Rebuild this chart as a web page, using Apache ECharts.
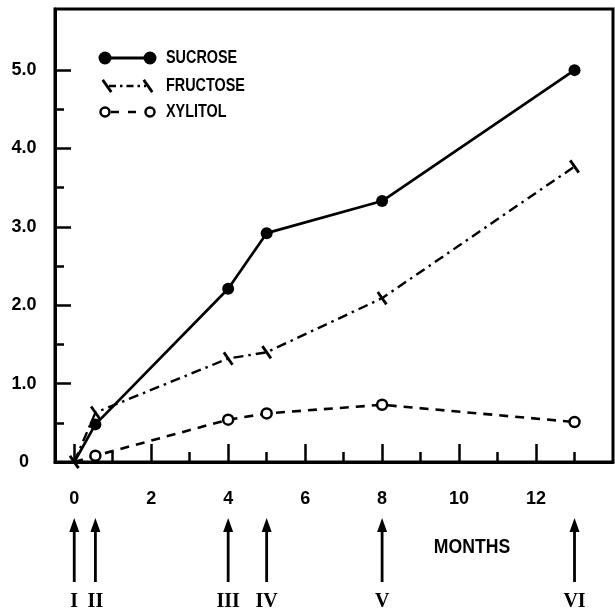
<!DOCTYPE html>
<html><head><meta charset="utf-8">
<script src="https://cdn.jsdelivr.net/npm/echarts@6/dist/echarts.min.js"></script>
<style>html,body{margin:0;padding:0;background:#fff}#c{width:615px;height:613px}</style>
</head><body><div id="c"></div>
<script>
// ---- data ----
const sucroseMonths = [0, 0.55, 4, 5, 8, 13];
const sucroseValues = [0, 0.48, 2.21, 2.92, 3.33, 5.0];
const fructoseMonths = [0, 0.55, 4, 5, 8, 13];
const fructoseValues = [0, 0.63, 1.32, 1.40, 2.09, 3.77];
const xylitolMonths = [0, 0.55, 4, 5, 8, 13];
const xylitolValues = [0, 0.08, 0.54, 0.62, 0.73, 0.51];
const xMajorTicks = [0, 2, 4, 6, 8, 10, 12];
const xMinorTicks = [1, 3, 5, 7, 9, 11, 13];
const yMajorTicks = [0, 1, 2, 3, 4, 5];
const yMinorTicks = [0.5, 1.5, 2.5, 3.5, 4.5];
const yTickLabels = ['0', '1.0', '2.0', '3.0', '4.0', '5.0'];
const samplingMonths = [0, 0.55, 4, 5, 8, 13];
const samplingLabels = ['I', 'II', 'III', 'IV', 'V', 'VI'];
const legendNames = ['SUCROSE', 'FRUCTOSE', 'XYLITOL'];
const xAxisTitle = 'MONTHS';

// ---- chart ----
const BLACK = '#000';
const NUM_FONT = "'Liberation Sans', Arial, sans-serif";
const NARROW_FONT = "'Liberation Sans Narrow', 'Liberation Sans', sans-serif";
const SERIF_FONT = "'Liberation Serif', 'DejaVu Serif', serif";

function pts(xs, ys, hideFirst) {
  return xs.map((x, i) => (hideFirst && i === 0) ? { value: [x, ys[i]], symbol: 'none' } : [x, ys[i]]);
}

const chart = echarts.init(document.getElementById('c'), null, { renderer: 'canvas' });

const baseX = { type: 'value', min: -0.5, max: 14, position: 'bottom', splitLine: { show: false } };
const baseY = { type: 'value', min: 0, max: 5.78, position: 'left', splitLine: { show: false } };

chart.setOption({
  animation: false,
  backgroundColor: '#fff',
  grid: { left: 55, right: 2, top: 9, bottom: 151, show: true, borderColor: BLACK, borderWidth: 3 },
  xAxis: [
    Object.assign({}, baseX, {
      axisLine: { show: true, onZero: false, lineStyle: { color: BLACK, width: 3 } },
      axisTick: { show: true, inside: true, length: 18, customValues: xMajorTicks, lineStyle: { color: BLACK, width: 2.5 } },
      axisLabel: { show: true, customValues: xMajorTicks, margin: 28, color: BLACK, fontFamily: NUM_FONT, fontWeight: 'bold', fontSize: 18 }
    }),
    Object.assign({}, baseX, {
      axisLine: { show: false, onZero: false },
      axisTick: { show: true, inside: true, length: 10, customValues: xMinorTicks, lineStyle: { color: BLACK, width: 2.5 } },
      axisLabel: { show: false }
    })
  ],
  yAxis: [
    Object.assign({}, baseY, {
      axisLine: { show: true, onZero: false, lineStyle: { color: BLACK, width: 3 } },
      axisTick: { show: true, inside: true, length: 16, customValues: yMajorTicks, lineStyle: { color: BLACK, width: 2.5 } },
      axisLabel: { show: true, customValues: yMajorTicks, margin: 31, align: 'center', color: BLACK, fontFamily: NUM_FONT, fontWeight: 'bold', fontSize: 18,
        formatter: v => { const i = yMajorTicks.indexOf(Math.round(v * 10) / 10); return i >= 0 ? yTickLabels[i] : ''; } }
    }),
    Object.assign({}, baseY, {
      axisLine: { show: false, onZero: false },
      axisTick: { show: true, inside: true, length: 9, customValues: yMinorTicks, lineStyle: { color: BLACK, width: 2.5 } },
      axisLabel: { show: false }
    })
  ],
  series: [
    {
      name: legendNames[0], type: 'line', xAxisIndex: 0, yAxisIndex: 0, z: 5,
      data: pts(sucroseMonths, sucroseValues, true),
      symbol: 'circle', symbolSize: 12,
      itemStyle: { color: BLACK },
      lineStyle: { color: BLACK, width: 2.7 }
    },
    {
      name: legendNames[1], type: 'line', xAxisIndex: 0, yAxisIndex: 0, z: 4,
      data: pts(fructoseMonths, fructoseValues, false),
      symbol: 'rect', symbolSize: [2.8, 15], symbolRotate: 35,
      itemStyle: { color: BLACK },
      lineStyle: { color: BLACK, width: 2.4, type: [10, 5, 2.5, 5] }
    },
    {
      name: legendNames[2], type: 'line', xAxisIndex: 0, yAxisIndex: 0, z: 4,
      data: pts(xylitolMonths, xylitolValues, true),
      symbol: 'circle', symbolSize: 10,
      itemStyle: { color: '#fff', borderColor: BLACK, borderWidth: 2.5 },
      lineStyle: { color: BLACK, width: 2.6, type: [9, 7] }
    }
  ]
});

// ---- annotations (legend samples, sampling arrows, axis title) ----
const g = [];
const lx1 = 105, lx2 = 150, ltx = 166, rows = [58, 86, 112];
// sucrose sample
g.push({ type: 'line', shape: { x1: lx1, y1: rows[0], x2: lx2, y2: rows[0] }, style: { stroke: BLACK, lineWidth: 3 } });
g.push({ type: 'circle', shape: { cx: lx1, cy: rows[0], r: 6.5 }, style: { fill: BLACK } });
g.push({ type: 'circle', shape: { cx: lx2, cy: rows[0], r: 6.5 }, style: { fill: BLACK } });
// fructose sample
g.push({ type: 'line', shape: { x1: lx1 + 4, y1: rows[1], x2: lx2 - 4, y2: rows[1] }, style: { stroke: BLACK, lineWidth: 2.4, lineDash: [7, 4, 2.5, 4] } });
[lx1 + 2, lx2 - 2].forEach(x => g.push({ type: 'rect', x: x, y: rows[1], rotation: 35 * Math.PI / 180, shape: { x: -1.4, y: -7.5, width: 2.8, height: 15 }, style: { fill: BLACK } }));
// xylitol sample
g.push({ type: 'line', shape: { x1: lx1 + 6, y1: rows[2], x2: lx2 - 6, y2: rows[2] }, style: { stroke: BLACK, lineWidth: 2.6, lineDash: [8, 9] } });
[lx1, lx2].forEach(x => g.push({ type: 'circle', shape: { cx: x, cy: rows[2], r: 4.5 }, style: { fill: '#fff', stroke: BLACK, lineWidth: 2.5 } }));
legendNames.forEach((name, i) => g.push({ type: 'text', x: ltx, y: rows[i], scaleX: 0.8, style: { text: name, fill: BLACK, font: "bold 18px " + NARROW_FONT, textAlign: 'left', textVerticalAlign: 'middle' } }));

// sampling arrows
samplingMonths.forEach((m, i) => {
  const x = chart.convertToPixel({ xAxisIndex: 0 }, m);
  g.push({ type: 'line', shape: { x1: x, y1: 582, x2: x, y2: 526 }, style: { stroke: BLACK, lineWidth: 2.8 } });
  g.push({ type: 'polygon', shape: { points: [[x - 5, 532], [x + 5, 532], [x, 518]] }, style: { fill: BLACK } });
  g.push({ type: 'text', x: x, y: 602, style: { text: samplingLabels[i], fill: BLACK, font: "bold 20px " + SERIF_FONT, textAlign: 'center', textVerticalAlign: 'middle' } });
});
g.push({ type: 'text', x: 472, y: 547, scaleX: 0.88, style: { text: xAxisTitle, fill: BLACK, font: "bold 20px " + NUM_FONT, textAlign: 'center', textVerticalAlign: 'middle' } });

chart.setOption({ graphic: g });
</script>
</body></html>
